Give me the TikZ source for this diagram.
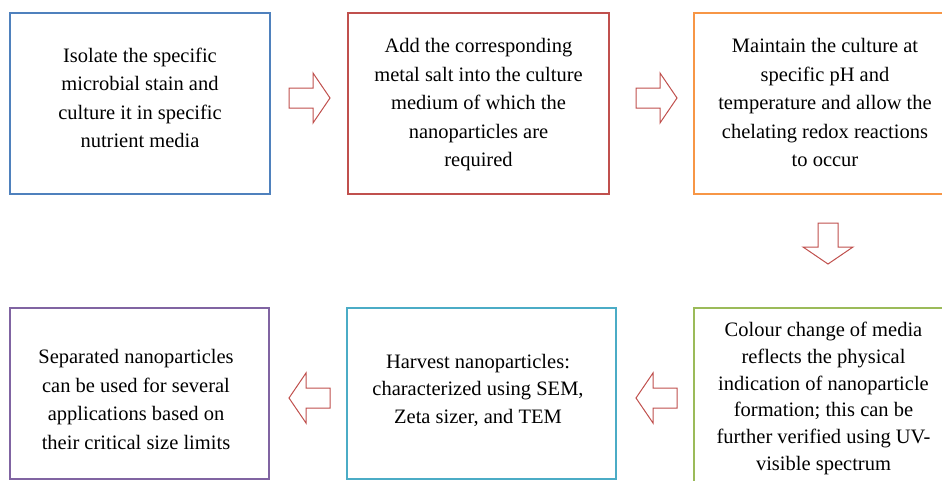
\documentclass[tikz,border=0pt]{standalone}
\usepackage{fontspec}
\setmainfont{Liberation Serif}
\definecolor{stageBlue}{HTML}{4F81BD}
\definecolor{stageRed}{HTML}{C0504D}
\definecolor{stageOrange}{HTML}{F79646}
\definecolor{stageGreen}{HTML}{9BBB59}
\definecolor{stageAqua}{HTML}{4BACC6}
\definecolor{stagePurple}{HTML}{8064A2}
\begin{document}
\begin{tikzpicture}[x=1pt,y=-1pt,
  stagebox/.style={draw=#1, line width=1.2pt, fill=white, inner sep=0pt},
  stagetext/.style={align=center, inner sep=0pt,
    font=\fontsize{20.5}{28.5}\selectfont},
  arrowline/.style={draw=stageRed, line width=1pt, fill=white, line join=miter},
  blockarrow/.pic={
    \draw[arrowline] (0,-10) -- (24,-10) -- (24,-25) -- (41,0) -- (24,25)
      -- (24,10) -- (0,10) -- cycle;}
]
\useasboundingbox (0,0) rectangle (942,480);
\clip (0,0) rectangle (942,480);

% process stages
\node[stagebox=stageBlue,   minimum width=260pt, minimum height=181pt] (b1) at (140,103.5) {};
\node[stagebox=stageRed,    minimum width=261pt, minimum height=181pt] (b2) at (478.5,103.5) {};
\node[stagebox=stageOrange, minimum width=261pt, minimum height=181pt] (b3) at (824.5,103.5) {};
\node[stagebox=stageGreen,  minimum width=261pt, minimum height=182pt] (b4) at (824.5,399) {};
\node[stagebox=stageAqua,   minimum width=269pt, minimum height=171pt] (b5) at (481.5,393.5) {};
\node[stagebox=stagePurple, minimum width=259pt, minimum height=171pt] (b6) at (139.5,393.5) {};

% stage descriptions
\node[stagetext] (t1) at (140,98) {Isolate the specific\\microbial stain and\\culture it in specific\\nutrient media};
\node[stagetext] (t2) at (478.5,105) {Add the corresponding\\metal salt into the culture\\medium of which the\\nanoparticles are\\required};
\node[stagetext] (t3) at (825,102.5) {Maintain the culture at\\specific pH and\\temperature and allow the\\chelating redox reactions\\to occur};
\node[stagetext, font=\fontsize{20.5}{26.7}\selectfont] (t4) at (823.5,398.5) {Colour change of media\\reflects the physical\\indication of nanoparticle\\formation; this can be\\further verified using UV-\\visible spectrum};
\node[stagetext, font=\fontsize{20.5}{27.5}\selectfont] (t5) at (478,390) {Harvest nanoparticles:\\characterized using SEM,\\Zeta sizer, and TEM};
\node[stagetext] (t6) at (136,399.5) {Separated nanoparticles\\can be used for several\\applications based on\\their critical size limits};

% block arrows between stages
\pic at (289,98) {blockarrow};
\pic at (636,98) {blockarrow};
\pic[rotate=-90] at (828,223) {blockarrow};
\pic[rotate=180] at (677,398) {blockarrow};
\pic[rotate=180] at (330,398) {blockarrow};
\end{tikzpicture}
\end{document}
